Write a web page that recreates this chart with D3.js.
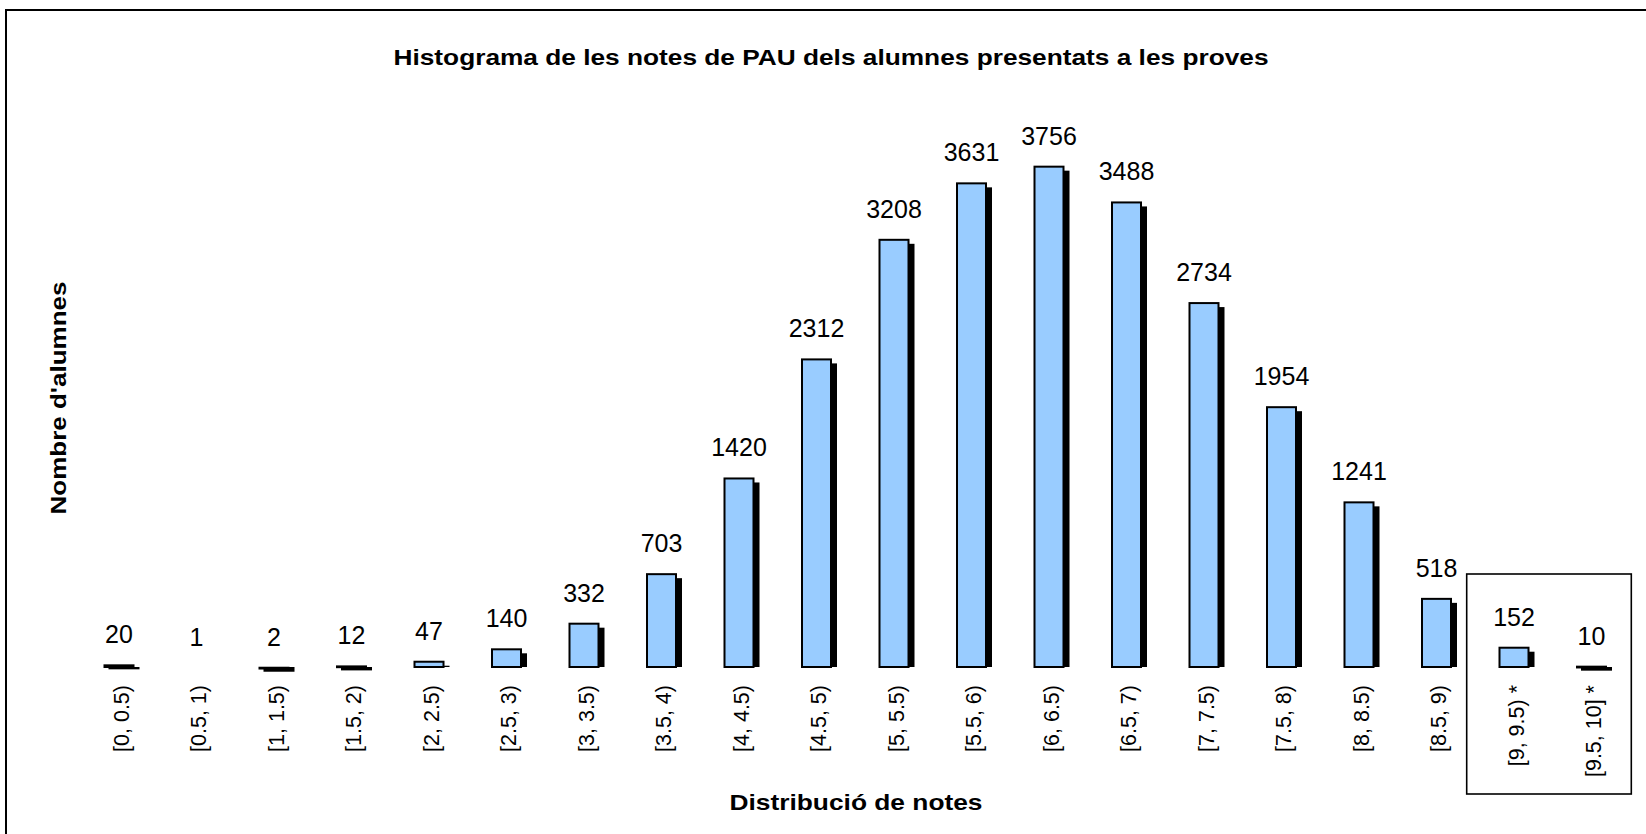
<!DOCTYPE html>
<html>
<head>
<meta charset="utf-8">
<script src="https://cdn.jsdelivr.net/npm/d3@7/dist/d3.min.js"></script>
<style>
  html, body { margin: 0; padding: 0; background: #fff; }
  svg { display: block; }
  text { font-family: "Liberation Sans", Arial, sans-serif; fill: #000; }
</style>
</head>
<body>
<svg id="chart" width="1646" height="834"></svg>
<script>
const categories = ["[0, 0.5)", "[0.5, 1)", "[1, 1.5)", "[1.5, 2)", "[2, 2.5)", "[2.5, 3)", "[3, 3.5)", "[3.5, 4)", "[4, 4.5)", "[4.5, 5)", "[5, 5.5)", "[5.5, 6)", "[6, 6.5)", "[6.5, 7)", "[7, 7.5)", "[7.5, 8)", "[8, 8.5)", "[8.5, 9)", "[9, 9.5) *", "[9.5, 10] *"];
const values = [20, 1, 2, 12, 47, 140, 332, 703, 1420, 2312, 3208, 3631, 3756, 3488, 2734, 1954, 1241, 518, 152, 10];
const boxedCategories = ["[9, 9.5) *", "[9.5, 10] *"];
const title = "Histograma de les notes de PAU dels alumnes presentats a les proves";
const xTitle = "Distribució de notes";
const yTitle = "Nombre d'alumnes";

const W = 1646, H = 834;
const svg = d3.select("#chart");

// outer chart border
svg.append("rect")
  .attr("x", 6).attr("y", 10)
  .attr("width", W + 10).attr("height", H + 10)
  .attr("fill", "none").attr("stroke", "#000").attr("stroke-width", 2);

const baseline = 667;
const x = d3.scaleBand().domain(categories).range([80.25, 1630.25])
  .paddingInner(0.6).paddingOuter(0.3);
const y = d3.scaleLinear().domain([0, 4000]).range([baseline, baseline - 533.9]);

const data = categories.map((c, i) => ({ c, v: values[i] }));
const shadow = 5;

const g = svg.append("g");
const visible = data.filter(d => baseline - y(d.v) >= 0.25);

// shadows (offset copy, limited by the baseline)
g.selectAll("rect.shadow").data(visible).enter().append("rect")
  .attr("class", "shadow")
  .attr("x", d => x(d.c) + shadow)
  .attr("y", d => Math.min(y(d.v) + shadow, baseline))
  .attr("width", x.bandwidth())
  .attr("height", d => Math.max(Math.abs(baseline - (y(d.v) + shadow)), 1.2))
  .attr("fill", "#000");

// bars
g.selectAll("rect.bar").data(visible).enter().append("rect")
  .attr("class", "bar")
  .attr("x", d => x(d.c) + 1)
  .attr("y", d => y(d.v) + 1)
  .attr("width", x.bandwidth() - 2)
  .attr("height", d => Math.max(baseline - y(d.v) - 1, 0.8))
  .attr("fill", "#99CCFF")
  .attr("stroke", "#000")
  .attr("stroke-width", 2);

// value labels
g.selectAll("text.val").data(data).enter().append("text")
  .attr("class", "val")
  .attr("x", d => x(d.c) + x.bandwidth() / 2)
  .attr("y", d => y(d.v) - 21)
  .attr("text-anchor", "middle")
  .style("font-size", "25px")
  .text(d => d.v);

// category labels (rotated)
g.selectAll("text.cat").data(categories).enter().append("text")
  .attr("class", "cat")
  .attr("transform", d => `translate(${x(d) + x.bandwidth() / 2 + 2},685) rotate(-90)`)
  .attr("text-anchor", "end")
  .attr("dy", "0.35em")
  .style("font-size", "21.5px")
  .text(d => d);

// box around highlighted categories
const bx0 = x(boxedCategories[0]) - 31.8;
const bx1 = x(boxedCategories[boxedCategories.length - 1]) + x.bandwidth() + 24.3;
svg.append("rect")
  .attr("x", bx0).attr("y", 574)
  .attr("width", bx1 - bx0).attr("height", 220)
  .attr("fill", "none").attr("stroke", "#000").attr("stroke-width", 1.6);

// titles
svg.append("text")
  .attr("x", 831).attr("y", 65)
  .attr("text-anchor", "middle")
  .attr("textLength", 875).attr("lengthAdjust", "spacingAndGlyphs")
  .style("font-size", "22px").style("font-weight", "bold")
  .text(title);

svg.append("text")
  .attr("x", 856).attr("y", 810)
  .attr("text-anchor", "middle")
  .attr("textLength", 253).attr("lengthAdjust", "spacingAndGlyphs")
  .style("font-size", "22.5px").style("font-weight", "bold")
  .text(xTitle);

svg.append("text")
  .attr("transform", "translate(66,398) rotate(-90)")
  .attr("text-anchor", "middle")
  .attr("textLength", 233).attr("lengthAdjust", "spacingAndGlyphs")
  .style("font-size", "22.5px").style("font-weight", "bold")
  .text(yTitle);
</script>
</body>
</html>
